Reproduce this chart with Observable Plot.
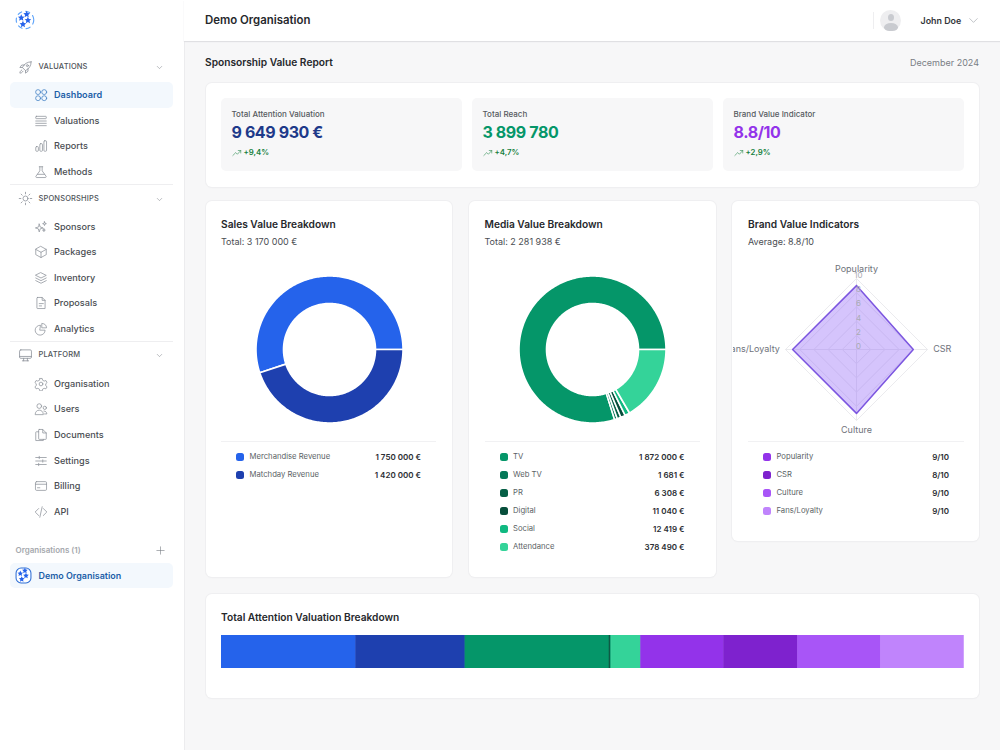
<!DOCTYPE html>
<html><head><meta charset="utf-8">
<script src="https://cdn.jsdelivr.net/npm/d3@7"></script>
<script src="https://cdn.jsdelivr.net/npm/@observablehq/plot@0.6"></script>
<style>
html,body{margin:0;padding:0;background:#f7f7f8;font-family:Inter,"Noto Sans",sans-serif;}
#root{position:relative;width:1000px;height:750px;overflow:hidden;background:#f7f7f8;}
.abs{position:absolute;}
.t{position:absolute;white-space:nowrap;transform:translateY(-50%);line-height:1;}
.r{transform:translate(-100%,-50%);}
.card{position:absolute;background:#fff;border-radius:6px;box-shadow:0 0 0 1px #efeff1,0 1px 2px rgba(0,0,0,.03);}
svg.ic{position:absolute;fill:none;stroke:#8e939b;stroke-width:1.3;stroke-linecap:round;stroke-linejoin:round;}
</style></head><body><div id="root"></div>
<script>
// ---- chart data ----
const salesNames = ["Merchandise Revenue", "Matchday Revenue"];
const salesValues = [1750000, 1420000];
const salesLabels = ["1 750 000 €", "1 420 000 €"];
const salesColors = ["#2563eb", "#1e40af"];

const mediaNames = ["TV", "Web TV", "PR", "Digital", "Social", "Attendance"];
const mediaValues = [1872000, 1681, 6308, 11040, 12419, 378490];
const mediaLabels = ["1 872 000 €", "1 681 €", "6 308 €", "11 040 €", "12 419 €", "378 490 €"];
const mediaColors = ["#059669", "#047857", "#065f46", "#064e3b", "#10b981", "#34d399"];

const brandNames = ["Popularity", "CSR", "Culture", "Fans/Loyalty"];
const brandScores = [9, 8, 9, 9];
const brandLabels = ["9/10", "8/10", "9/10", "9/10"];
const brandColors = ["#9333ea", "#7e22ce", "#a855f7", "#c084fc"];
const brandValuations = [1080000, 960000, 1079000, 1078992];
const radarTicks = [0, 2, 4, 6, 8, 10];

const kpiTitles = ["Total Attention Valuation", "Total Reach", "Brand Value Indicator"];
const kpiValues = ["9 649 930 €", "3 899 780", "8.8/10"];
const kpiColors = ["#1e3a8a", "#059669", "#9333ea"];
const kpiTrends = ["+9,4%", "+4,7%", "+2,9%"];

// ---- page helpers ----
const root = document.getElementById("root");
function box(cls, x, y, w, h, css = "") {
  const d = document.createElement("div");
  d.className = cls;
  d.style.cssText = `left:${x}px;top:${y}px;width:${w}px;height:${h}px;${css}`;
  root.appendChild(d);
  return d;
}
function t(text, x, y, size, weight, color, extra = "", right = false) {
  const d = document.createElement("div");
  d.className = right ? "t r" : "t";
  d.textContent = text;
  d.style.cssText = `left:${x}px;top:${y}px;font-size:${size}px;font-weight:${weight};color:${color};${extra}`;
  root.appendChild(d);
}
function icon(inner, cx, cy, size = 14, css = "") {
  const ns = "http://www.w3.org/2000/svg";
  const s = document.createElementNS(ns, "svg");
  s.setAttribute("class", "ic");
  s.setAttribute("viewBox", "0 0 24 24");
  s.setAttribute("width", size);
  s.setAttribute("height", size);
  s.style.cssText = `left:${cx - size / 2}px;top:${cy - size / 2}px;${css}`;
  s.innerHTML = inner;
  root.appendChild(s);
}
const ICON = {
  rocket:'<path d="M21 3c-6 0-11 3-14 9l5 5c6-3 9-8 9-14zM7 12H3l3-4h4M12 17v4l4-3v-4"/><circle cx="15" cy="9" r="1.6"/><path d="M6 16c-2 1-3 3-3 5 2 0 4-1 5-3"/>',
  grid:'<circle cx="7" cy="7" r="4.2"/><circle cx="17.5" cy="7" r="4.2"/><circle cx="7" cy="17.5" r="4.2"/><circle cx="17.5" cy="17.5" r="4.2"/>',
  rows:'<rect x="3" y="4" width="18" height="4" rx="1"/><path d="M3 12h18M3 16h18M3 20h18"/>',
  bars:'<rect x="3" y="13" width="4.5" height="8" rx="1.5"/><rect x="10" y="8" width="4.5" height="13" rx="1.5"/><rect x="17" y="3" width="4.5" height="18" rx="1.5"/>',
  flask:'<path d="M9 3h6M10 3v7L3.5 19c-1 1.5 0 2.5 1.5 2.5h14c1.5 0 2.5-1 1.5-2.5L14 10V3M6 16h12"/>',
  sun:'<circle cx="12" cy="12" r="4"/><path d="M12 2v2.5M12 19.5V22M2 12h2.5M19.5 12H22M5 5l1.7 1.7M17.3 17.3 19 19M5 19l1.7-1.7M17.3 6.7 19 5"/>',
  spark:'<path d="M9 7l1.6 5 5 1.6-5 1.6L9 20.5l-1.6-5.3-5-1.6 5-1.6zM18 3l.8 2.4 2.4.8-2.4.8L18 9.5l-.8-2.5-2.4-.8 2.4-.8zM17 15l.6 1.8 1.8.6-1.8.6-.6 2-.6-2-1.8-.6 1.8-.6z"/>',
  cube:'<path d="M12 2.5l9 5v9l-9 5-9-5v-9zM3 7.5l9 5 9-5M12 12.5v9"/>',
  layers:'<path d="M12 3l9 4.5-9 4.5-9-4.5zM3 12l9 4.5 9-4.5M3 16.5L12 21l9-4.5"/>',
  doc:'<path d="M6 2.5h8l5 5v14H6a1 1 0 0 1-1-1v-17a1 1 0 0 1 1-1zM14 2.5v5h5M9 13h7M9 17h4"/>',
  pie:'<path d="M10.5 5.5a8.5 8.5 0 1 0 8.5 8.5h-8.5z"/><path d="M14 2.5a8 8 0 0 1 7.5 7.5H14z"/>',
  monitor:'<rect x="2.5" y="3" width="19" height="13.5" rx="2"/><path d="M2.5 13.5h19M9 16.5v4M15 16.5v4M7 20.5h10"/>',
  gear:'<circle cx="12" cy="12" r="3.2"/><path d="M10 2.5h4l.7 3 2.7 1.5 3-.9 2 3.4-2.3 2.1v3.2l2.3 2.1-2 3.4-3-.9-2.7 1.5-.7 3h-4l-.7-3-2.7-1.5-3 .9-2-3.4 2.3-2.1v-3.2L1.6 9.5l2-3.4 3 .9L9.3 5.5z"/>',
  users:'<circle cx="9" cy="7" r="4"/><path d="M2 21c0-4 3-7 7-7s7 3 7 7z"/><circle cx="18.5" cy="10" r="2.8"/><path d="M17 15.5c3 0 5 2 5 5h-4"/>',
  docs:'<path d="M9 2.5h6l6 6v10a1 1 0 0 1-1 1H9a1 1 0 0 1-1-1v-15a1 1 0 0 1 1-1zM15 2.5v6h6"/><path d="M8 6.5H4a1 1 0 0 0-1 1v14h13v-2"/>',
  sliders:'<path d="M3 6h18M3 12h18M3 18h18"/><path d="M9 4v4M15 10v4M8 16v4"/>',
  card:'<rect x="2.5" y="4.5" width="19" height="15" rx="2"/><path d="M2.5 9h19M6 15h4"/>',
  code:'<path d="M8 6l-6 6 6 6M16 6l6 6-6 6M14 3l-4 18"/>',
  chevron:'<path d="M6 9l6 6 6-6"/>',
  plus:'<path d="M12 4v16M4 12h16"/>',
  trend:'<path d="M2 18l7-7 4 4 8-9M15 6h6v6"/>'
};
function logo(cx, cy, size, framed) {
  const star = (x, y) => `<path transform="translate(${x} ${y})" d="M0-4L1.2-1.3 4-1 1.9.9 2.5 3.8 0 2.3-2.5 3.8-1.9.9-4-1-1.2-1.3z" fill="#2563eb" stroke="none"/>`;
  const ring = framed
    ? `<rect x="1.5" y="1.5" width="21" height="21" rx="7" fill="#fff" stroke="#2f6fd6" stroke-width="1.5"/>`
    : `<circle cx="12" cy="12" r="10.5" fill="#fff" stroke="#60a5fa" stroke-width="1.4" stroke-dasharray="5 5"/>`;
  icon(`${ring}${star(7.5, 9)}${star(15.5, 12)}${star(9.5, 17)}${star(14, 5)}`, cx, cy, size);
}

// ---- sidebar ----
box("abs", 0, 0, 184, 750, "background:#fff;box-shadow:1px 0 0 #ececee;");
logo(25, 20, 20, false);
const navText = "#4a4d52", activeBlue = "#1d5fa8";
function section(label, y, ic) {
  icon(ICON[ic], 25.5, y, 15);
  t(label, 38.5, y + .2, 7.5, 500, "#50545a", "letter-spacing:.15px;");
  icon(ICON.chevron, 159, y + .5, 9, "stroke:#777b82;");
}
function item(label, y, ic, active = false) {
  icon(ICON[ic], 41, y, 14, active ? "stroke:#3f7fc4;" : "");
  t(label, 54, y + .2, 9.15, active ? 600 : 500, active ? activeBlue : navText);
}
box("abs", 10, 82, 163, 26, "background:#f3f8fd;border-radius:5px;");
section("VALUATIONS", 67, "rocket");
item("Dashboard", 95, "grid", true);
item("Valuations", 120.5, "rows");
item("Reports", 146, "bars");
item("Methods", 172, "flask");
box("abs", 10, 184, 163, 1, "background:#eeeef0;");
section("SPONSORSHIPS", 198.5, "sun");
item("Sponsors", 226.5, "spark");
item("Packages", 252, "cube");
item("Inventory", 277.5, "layers");
item("Proposals", 303, "doc");
item("Analytics", 329, "pie");
box("abs", 10, 341, 163, 1, "background:#eeeef0;");
section("PLATFORM", 355, "monitor");
item("Organisation", 383.5, "gear");
item("Users", 409, "users");
item("Documents", 435, "docs");
item("Settings", 460.5, "sliders");
item("Billing", 486, "card");
item("API", 511.5, "code");
t("Organisations (1)", 15.5, 550, 8, 600, "#a5a8ad");
icon(ICON.plus, 160.5, 550, 11, "stroke:#777b82;");
box("abs", 10, 563, 163, 25, "background:#f3f8fd;border-radius:5px;");
logo(23, 575.5, 17, true);
t("Demo Organisation", 38.5, 575.5, 8.95, 600, activeBlue);

// ---- header ----
box("abs", 184, 0, 816, 41, "background:#fff;box-shadow:0 1px 1px #e0e0e3;");
t("Demo Organisation", 205, 20.5, 11.4, 600, "#26282c");
box("abs", 873, 12, 1, 17, "background:#eeeef0;");
box("abs", 880, 10, 21, 21, "background:#eeeef0;border-radius:50%;overflow:hidden;");
box("abs", 887.5, 14, 6, 7, "background:#c9cbd0;border-radius:50%;");
box("abs", 883.5, 22.5, 14, 8.5, "background:#c9cbd0;border-radius:50% 50% 40% 40%;");
t("John Doe", 920.5, 20.5, 8.9, 600, "#33363b");
icon(ICON.chevron, 973, 20.5, 15, "stroke:#9ca0a6;stroke-width:1;");

t("Sponsorship Value Report", 205, 61.5, 10.2, 600, "#26282c");
t("December 2024", 979, 62, 9, 400, "#7a7e85", "", true);

// ---- KPI strip ----
box("card", 206, 83, 773, 104);
[221, 472, 723].forEach((x, i) => {
  box("abs", x, 98, 241, 73, "background:#f7f7f8;border-radius:5px;");
  t(kpiTitles[i], x + 10.5, 114, 8, 500, "#565a60");
  t(kpiValues[i], x + 10.5, 132, 16, 700, kpiColors[i], "letter-spacing:-.4px;");
  icon(ICON.trend, x + 15.5, 152.5, 10, "stroke:#15803d;");
  t(kpiTrends[i], x + 22.5, 152.5, 7.8, 600, "#15803d");
});

// ---- cards ----
function legend(names, labels, colors, x, width, top) {
  box("abs", x, 441, width, 1, "background:#f1f1f3;");
  names.forEach((n, i) => {
    const y = top + i * 18;
    box("abs", x + 15, y - 4, 8, 8, `background:${colors[i]};border-radius:2.5px;`);
    t(n, x + 28.5, y, 7.7, 400, "#5b5f66");
    t(labels[i], x + width - 15, y, 8, 600, "#2b2e33", "", true);
  });
}
box("card", 206, 201, 246, 376);
t("Sales Value Breakdown", 221, 224, 10.2, 600, "#26282c");
t("Total: 3 170 000 €", 221, 241, 9, 400, "#4a4d52");
legend(salesNames, salesLabels, salesColors, 221, 215, 457);

box("card", 469, 201, 247, 376);
t("Media Value Breakdown", 484.5, 224, 10.2, 600, "#26282c");
t("Total: 2 281 938 €", 484.5, 241, 9, 400, "#4a4d52");
legend(mediaNames, mediaLabels, mediaColors, 484.5, 215, 457);

box("card", 732, 201, 247, 340);
t("Brand Value Indicators", 748, 224, 10.2, 600, "#26282c");
t("Average: 8.8/10", 748, 241, 9, 400, "#4a4d52");
legend(brandNames, brandLabels, brandColors, 748, 216, 457);

box("card", 206, 594, 773, 104);
t("Total Attention Valuation Breakdown", 221, 617, 10.2, 600, "#26282c");

// ---- charts (Observable Plot) ----
function place(svg, x, y) {
  svg.style.position = "absolute";
  svg.style.left = x + "px";
  svg.style.top = y + "px";
  svg.style.background = "transparent";
  svg.style.maxWidth = "none";
  root.appendChild(svg);
}
// ring polygons, counter-clockwise from 3 o'clock; each slice gets a minimum angle of 2deg
function ringRows(names, values) {
  const total = d3.sum(values), minA = 2, avail = 360 - names.length * minA;
  const rOut = 73.5, rIn = 46;
  const rows = [];
  let a = 0;
  names.forEach((name, i) => {
    const span = minA + values[i] / total * avail, end = a + span;
    const n = Math.max(2, Math.ceil(span));
    const arc = d3.range(n + 1).map(k => a + span * k / n);
    const pts = [...arc.map(g => [g, rOut]), ...arc.slice().reverse().map(g => [g, rIn])];
    pts.push(pts[0]);
    pts.forEach(([g, r]) => rows.push({
      name,
      px: r * Math.cos(g * Math.PI / 180),
      py: r * Math.sin(g * Math.PI / 180)
    }));
    a = end;
  });
  return rows;
}
function donut(names, values, colors) {
  return Plot.plot({
    width: 160, height: 160, margin: 0,
    x: {domain: [-80, 80], axis: null},
    y: {domain: [-80, 80], axis: null},
    color: {domain: names, range: colors},
    marks: [Plot.line(ringRows(names, values), {
      x: "px", y: "py", z: "name", fill: "name",
      stroke: "#fff", strokeWidth: 1.6, curve: "linear"
    })]
  });
}
place(donut(salesNames, salesValues, salesColors), 329.2 - 80, 348.5 - 80);
place(donut(mediaNames, mediaValues, mediaColors), 592.3 - 80, 348.6 - 80);

// radar: axes clockwise from the top
const radarW = 245, radarH = 178, pxPerUnit = 7.1, radarCx = 123, radarCy = 89;
const axisAngle = i => Math.PI / 2 - i * Math.PI / 2;
const polar = (i, r) => ({px: r * Math.cos(axisAngle(i)), py: r * Math.sin(axisAngle(i))});
const ringGrid = radarTicks.slice(1).flatMap(tick =>
  [0, 1, 2, 3, 4].map(i => ({tick, ...polar(i, tick)})));
const spokes = brandNames.flatMap((name, i) => [{name, ...polar(i, 0)}, {name, ...polar(i, 10)}]);
const shape = [...brandScores, brandScores[0]].map((s, i) => polar(i, s));
const labelRows = brandNames.map((name, i) => {
  const horiz = i % 2 === 1;
  return {name, anchor: i === 1 ? "start" : i === 3 ? "end" : "middle", ...polar(i, horiz ? 10.8 : 11.3)};
});
const radar = Plot.plot({
  width: radarW, height: radarH, margin: 0,
  style: {overflow: "hidden", background: "transparent"},
  x: {domain: [-radarCx / pxPerUnit, (radarW - radarCx) / pxPerUnit], axis: null},
  y: {domain: [-(radarH - radarCy) / pxPerUnit, radarCy / pxPerUnit], axis: null},
  marks: [
    Plot.line(ringGrid, {x: "px", y: "py", z: "tick", stroke: "#ebebee", strokeWidth: 1}),
    Plot.line(spokes, {x: "px", y: "py", z: "name", stroke: "#ebebee", strokeWidth: 1}),
    Plot.line(shape, {x: "px", y: "py", fill: "#8b5cf6", fillOpacity: .36, stroke: "#7c56e0", strokeWidth: 1.5}),
    Plot.text(radarTicks, {x: 0, y: d => d, text: d => String(d), dx: 2, dy: -3, fontSize: 8, fill: "#a9abb3", fontFamily: "Inter"}),
    ...["start", "end", "middle"].map(anchor => Plot.text(labelRows.filter(d => d.anchor === anchor), {
      x: "px", y: "py", text: "name", textAnchor: anchor, fontSize: 9, fill: "#6f737b", fontFamily: "Inter"
    }))
  ]
});
place(radar, 856 - radarCx, 349 - radarCy);
radar.style.overflow = "hidden";

// stacked bar
const allNames = [...salesNames, ...mediaNames, ...brandNames];
const allValues = [...salesValues, ...mediaValues, ...brandValuations];
const allColors = [...salesColors, ...mediaColors, ...brandColors];
const stack = Plot.plot({
  width: 742.5, height: 33, margin: 0,
  x: {domain: [0, d3.sum(allValues)], axis: null},
  y: {axis: null},
  color: {domain: allNames, range: allColors},
  marks: [Plot.barX(allNames.map((name, i) => ({name, value: allValues[i]})), {
    x: "value", fill: "name", stroke: "name", strokeWidth: .5, order: null, inset: 0
  })]
});
place(stack, 221, 635);
</script></body></html>
